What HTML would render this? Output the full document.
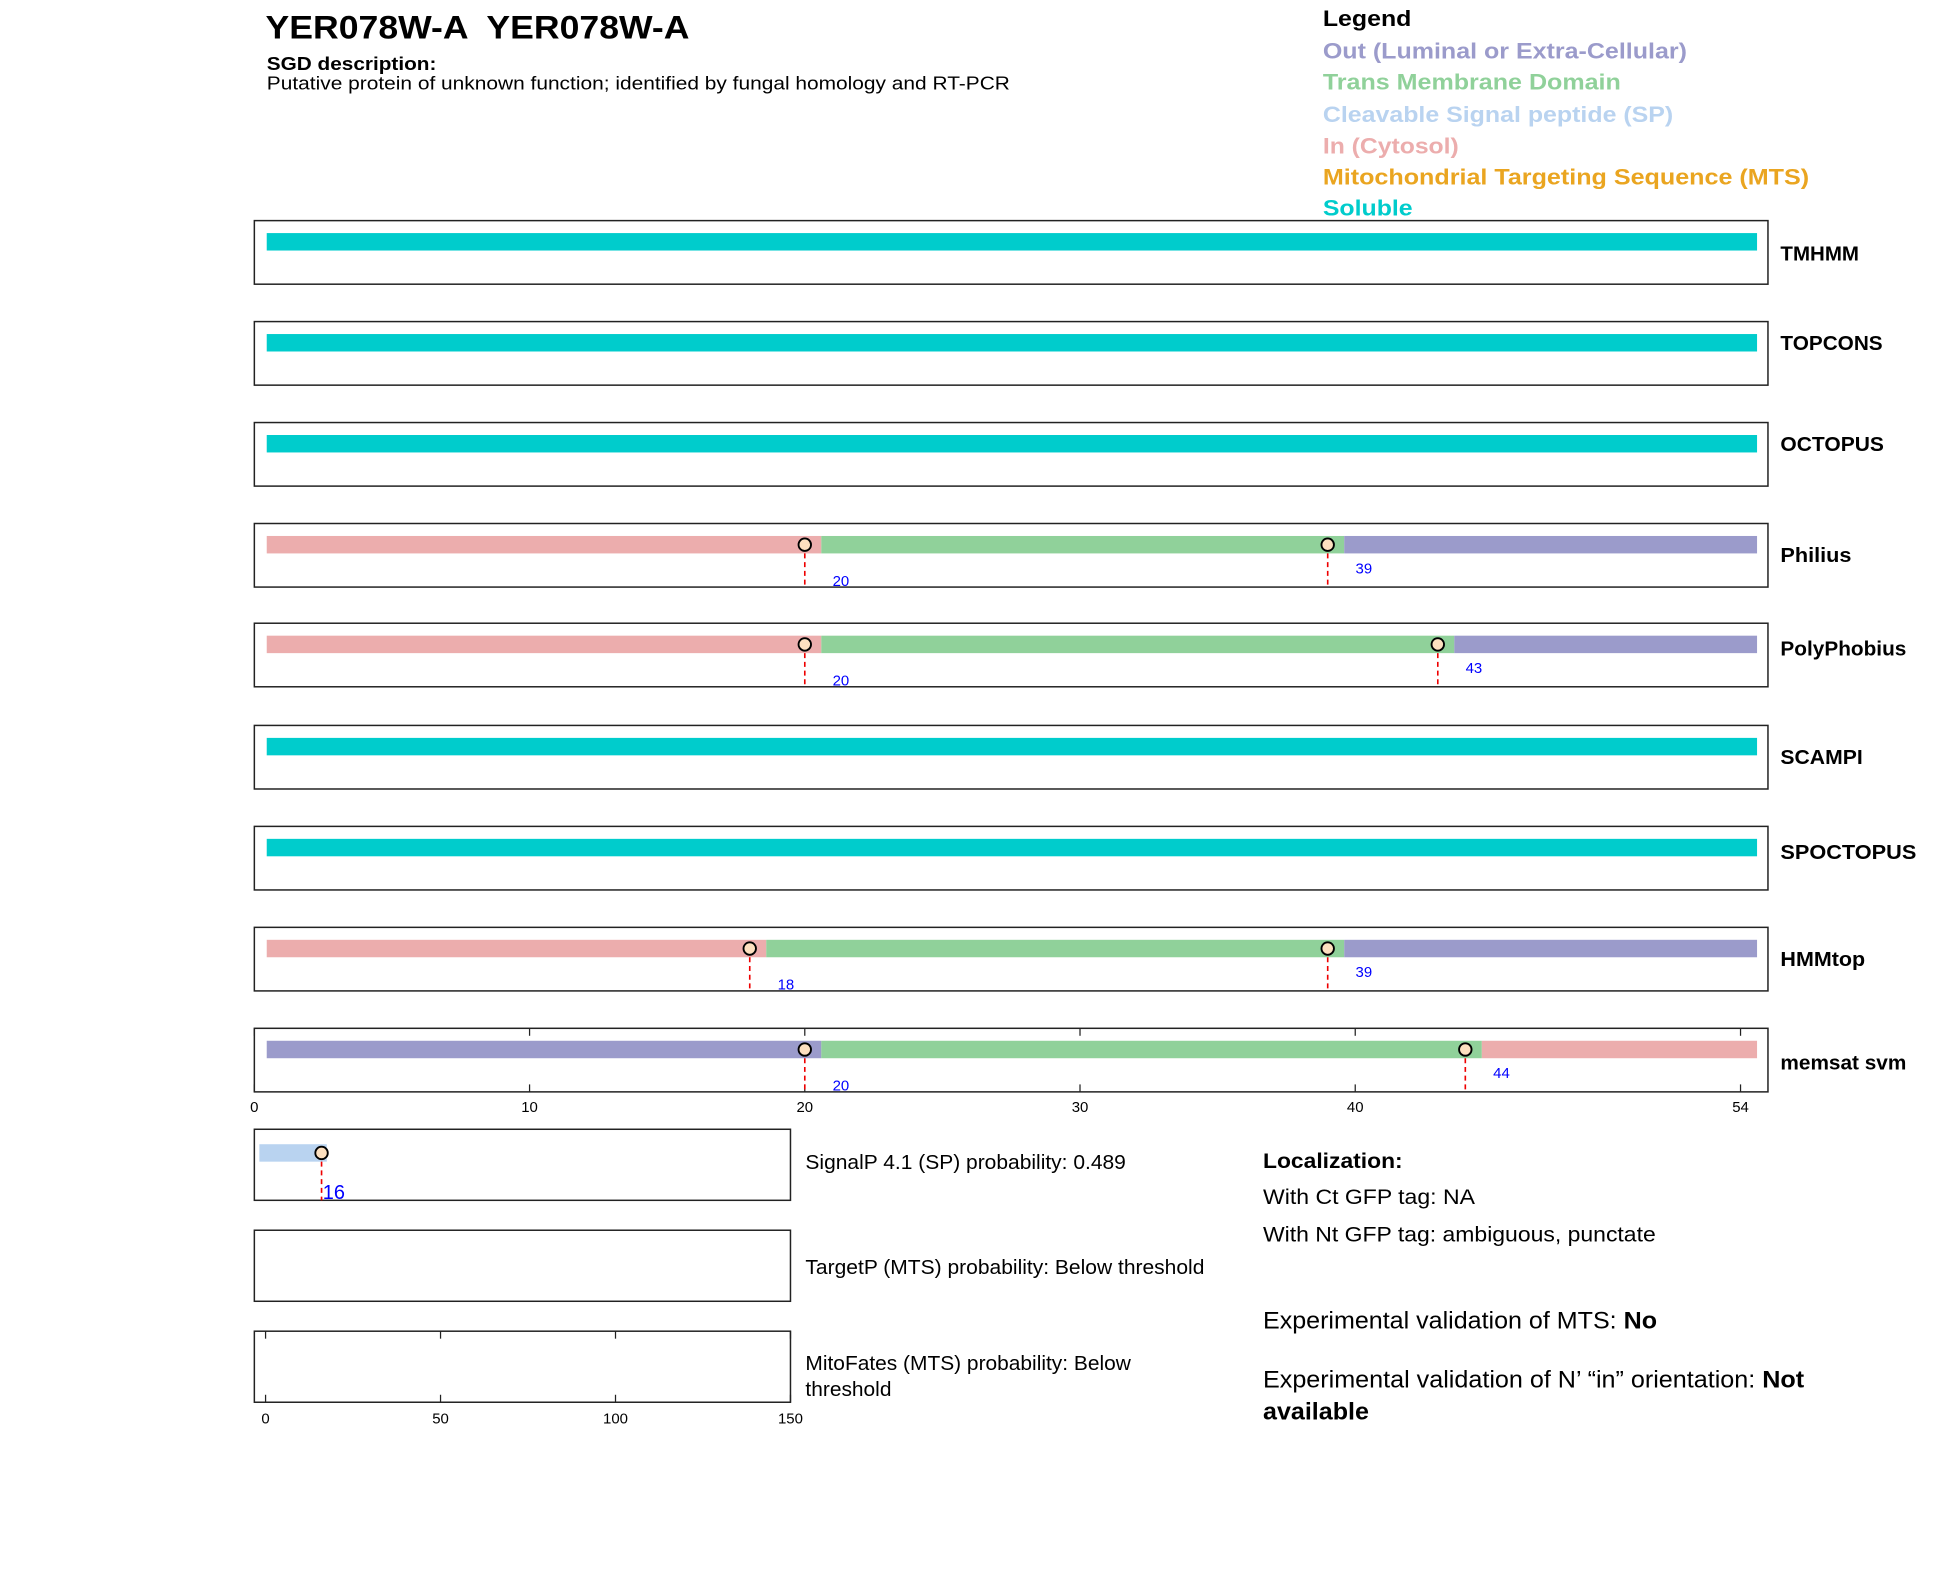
<!DOCTYPE html>
<html><head><meta charset="utf-8"><style>
html,body{margin:0;padding:0;background:#fff;}
svg{display:block;font-family:"Liberation Sans",Arial,sans-serif;}
</style></head><body>
<svg id="chart" width="1950" height="1573" viewBox="0 0 1564 1262" preserveAspectRatio="none" xmlns="http://www.w3.org/2000/svg">
<text x="213" y="31" font-size="26" font-weight="bold" textLength="340" lengthAdjust="spacingAndGlyphs" xml:space="preserve">YER078W-A  YER078W-A</text>
<text x="214" y="56" font-size="15" font-weight="bold" textLength="136" lengthAdjust="spacingAndGlyphs">SGD description:</text>
<text x="214" y="72" font-size="15" textLength="596" lengthAdjust="spacingAndGlyphs">Putative protein of unknown function; identified by fungal homology and RT-PCR</text>
<g font-size="18" font-weight="bold">
<text x="1061" y="21" fill="#000" textLength="71" lengthAdjust="spacingAndGlyphs">Legend</text>
<text x="1061" y="47" fill="#9b9bcb" textLength="292" lengthAdjust="spacingAndGlyphs">Out (Luminal or Extra-Cellular)</text>
<text x="1061" y="72" fill="#90d19a" textLength="239" lengthAdjust="spacingAndGlyphs">Trans Membrane Domain</text>
<text x="1061" y="98" fill="#b9d3f0" textLength="281" lengthAdjust="spacingAndGlyphs">Cleavable Signal peptide (SP)</text>
<text x="1061" y="123" fill="#ecadad" textLength="109" lengthAdjust="spacingAndGlyphs">In (Cytosol)</text>
<text x="1061" y="148" fill="#eaa520" textLength="390" lengthAdjust="spacingAndGlyphs">Mitochondrial Targeting Sequence (MTS)</text>
<text x="1061" y="173" fill="#00cccc" textLength="72" lengthAdjust="spacingAndGlyphs">Soluble</text>
</g>
<g id="rows"></g>
<g id="bottom"></g>
<g font-size="17">
<text x="1013" y="937" font-weight="bold" textLength="112" lengthAdjust="spacingAndGlyphs">Localization:</text>
<text x="1013" y="966" textLength="170" lengthAdjust="spacingAndGlyphs">With Ct GFP tag: NA</text>
<text x="1013" y="996" textLength="315" lengthAdjust="spacingAndGlyphs">With Nt GFP tag: ambiguous, punctate</text>
<text x="1013" y="1066" font-size="19" textLength="316" lengthAdjust="spacingAndGlyphs">Experimental validation of MTS: <tspan font-weight="bold">No</tspan></text>
<text x="1013" y="1113" font-size="19" textLength="434" lengthAdjust="spacingAndGlyphs">Experimental validation of N’ “in” orientation: <tspan font-weight="bold">Not</tspan></text>
<text x="1013" y="1139" font-size="19" font-weight="bold" textLength="85" lengthAdjust="spacingAndGlyphs">available</text>
</g>
<g font-size="16">
<text x="646" y="938" textLength="257" lengthAdjust="spacingAndGlyphs">SignalP 4.1 (SP) probability: 0.489</text>
<text x="646" y="1022" textLength="320" lengthAdjust="spacingAndGlyphs">TargetP (MTS) probability: Below threshold</text>
<text x="646" y="1099" textLength="261" lengthAdjust="spacingAndGlyphs">MitoFates (MTS) probability: Below</text>
<text x="646" y="1120" textLength="69" lengthAdjust="spacingAndGlyphs">threshold</text>
</g>
</svg>
<script>
const predictors = ["TMHMM","TOPCONS","OCTOPUS","Philius","PolyPhobius","SCAMPI","SPOCTOPUS","HMMtop","memsat svm"];
const segTypes = [["S"],["S"],["S"],["I","M","O"],["I","M","O"],["S"],["S"],["I","M","O"],["O","M","I"]];
const boundaries = [[],[],[],[20,39],[20,43],[],[],[18,39],[20,44]];
const seqLength = 54;
const axisTicks = [0,10,20,30,40,54];
const spCleavage = 16;
const bottomTicks = [0,50,100,150];
const bottomPanels = ["SignalP","TargetP","MitoFates"];

const colors = {S:"#00cccc",I:"#ecadad",M:"#90d19a",O:"#9b9bcb",SP:"#b9d3f0"};
const NS="http://www.w3.org/2000/svg";
function mk(tag, attrs, parent){const e=document.createElementNS(NS,tag);for(const k in attrs)e.setAttribute(k,attrs[k]);parent.appendChild(e);return e;}
const X0=204, X1=1418;
const xs = v => 204 + v*(1396-204)/54;
const rowTops=[177,258,339,420,500,582,663,744,825];
const labelY=[209,281,362,451,526,613,689,775,858];
const labelW=[63,82,83,57,101,66,109,68,101];
const rows=document.getElementById('rows');
predictors.forEach((p,i)=>{
  const top=rowTops[i];
  const g=mk('g',{},rows);
  
  
  const box=mk('rect',{x:X0,y:top,width:X1-X0,height:51,fill:'#fff',stroke:'#222','stroke-width':1.2},g);
  
  
  const b=boundaries[i];
  const edges=[0.45].concat(b.map(v=>v+0.6)).concat([seqLength+0.6]);
  segTypes[i].forEach((t,j)=>{
    const r=mk('rect',{x:xs(edges[j]),y:top+10,width:xs(edges[j+1])-xs(edges[j]),height:14,fill:colors[t]},g);
    
    
  });
  if(i===8){
    axisTicks.forEach(v=>{
      const t1=mk('line',{x1:xs(v),x2:xs(v),y1:top,y2:top+6,stroke:'#222'},g);
      
      
      const t2=mk('line',{x1:xs(v),x2:xs(v),y1:top+45,y2:top+51,stroke:'#222'},g);
      
      
      const tl=mk('text',{x:xs(v),y:top+67,'font-size':12,'text-anchor':'middle'},g);
      tl.textContent=v;
      
      
    });
  }
  b.forEach((v,j)=>{
    const x=xs(v);
    const l=mk('line',{x1:x,x2:x,y1:top+17,y2:top+51,stroke:'#e00','stroke-width':1.3,'stroke-dasharray':'4,3'},g);
    
    
    const c=mk('circle',{cx:x,cy:top+17,r:5,fill:'#fde0c0',stroke:'#000','stroke-width':1.5},g);
    
    
    const t=mk('text',{x:x+29,y:top+(j%2===0?50:40),'font-size':12,fill:'#00f','text-anchor':'middle'},g);
    t.textContent=v;
    
    
  });
  const lab=mk('text',{x:1428,y:labelY[i],'font-size':16,'font-weight':'bold',textLength:labelW[i],lengthAdjust:'spacingAndGlyphs'},g);
  lab.textContent=p;
  
  
});
const bottom=document.getElementById('bottom');
const bx = v => 213 + v*(634-213)/150;
const bTops=[906,987,1068];
bottomPanels.forEach((p,i)=>{
  const r=mk('rect',{x:204,y:bTops[i],width:430,height:57,fill:'#fff',stroke:'#222','stroke-width':1.2},bottom);
  
  
});
const spb=mk('rect',{x:208,y:918,width:bx(spCleavage+1.5)-208,height:14,fill:colors.SP},bottom);


const spl=mk('line',{x1:bx(spCleavage),x2:bx(spCleavage),y1:925,y2:963,stroke:'#e00','stroke-width':1.3,'stroke-dasharray':'4,3'},bottom);


const spc=mk('circle',{cx:bx(spCleavage),cy:925,r:5,fill:'#fde0c0',stroke:'#000','stroke-width':1.5},bottom);


const spt=mk('text',{x:bx(spCleavage)+1,y:962,'font-size':16,fill:'#00f'},bottom);
spt.textContent=spCleavage;


bottomTicks.forEach(v=>{
  const t1=mk('line',{x1:bx(v),x2:bx(v),y1:1068,y2:1074,stroke:'#222'},bottom);
  
  
  const t2=mk('line',{x1:bx(v),x2:bx(v),y1:1119,y2:1125,stroke:'#222'},bottom);
  
  
  const tl=mk('text',{x:bx(v),y:1142,'font-size':12,'text-anchor':'middle'},bottom);
  tl.textContent=v;
  
  
});
</script>
</body></html>
